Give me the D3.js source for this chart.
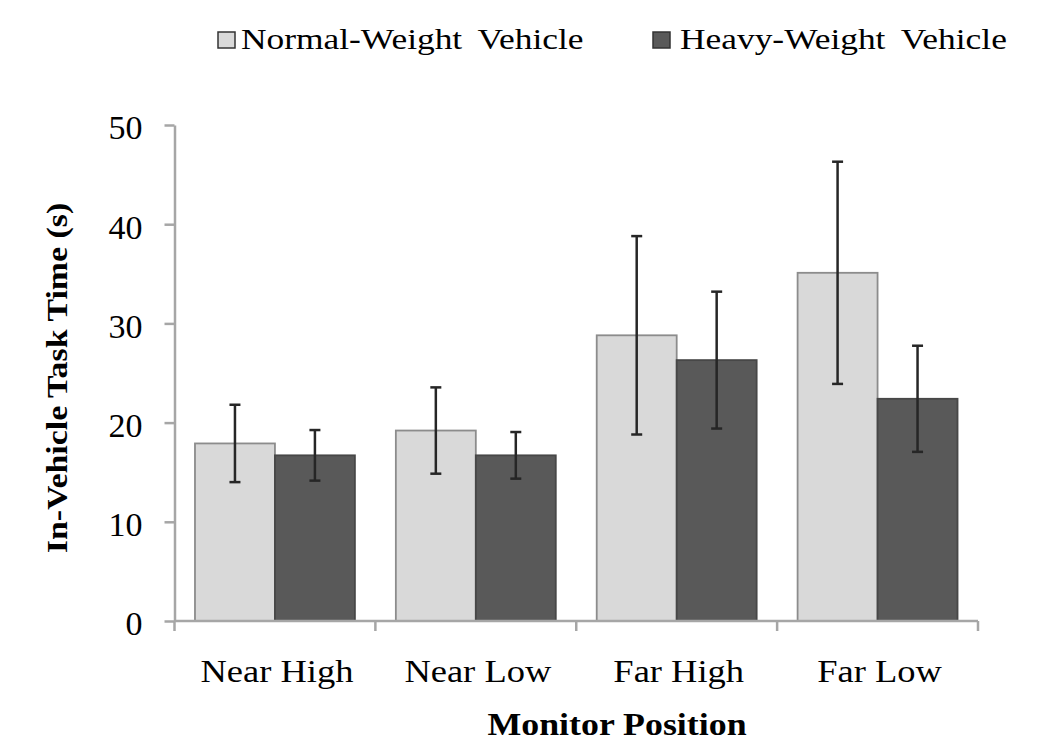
<!DOCTYPE html>
<html>
<head>
<meta charset="utf-8">
<script src="https://cdn.jsdelivr.net/npm/d3@7"></script>
<style>
  html, body { margin: 0; padding: 0; background: #fff; }
  svg { display: block; }
  text { font-family: "Liberation Serif", "Times New Roman", serif; fill: #000; }
</style>
</head>
<body>
<svg id="chart" width="1056" height="756"></svg>
<script>
// ---- data ----
const categories = ["Near High", "Near Low", "Far High", "Far Low"];
const series = ["Normal-Weight Vehicle", "Heavy-Weight Vehicle"];
const normalMeans = [17.9, 19.2, 28.8, 35.1];
const normalErr   = [3.9, 4.35, 10.0, 11.2];
const heavyMeans  = [16.7, 16.7, 26.3, 22.4];
const heavyErr    = [2.55, 2.35, 6.9, 5.35];
const yTicks = [0, 10, 20, 30, 40, 50];
const yTitle = "In-Vehicle Task Time (s)";
const xTitle = "Monitor Position";

const colors = { fill: ["#d9d9d9", "#595959"], stroke: ["#8c8c8c", "#474747"] };

const svg = d3.select("#chart");
const plotL = 174.5, plotR = 978, plotT = 125, plotB = 621;

const x0 = d3.scaleBand().domain(categories).range([plotL, plotR]).padding(0);
const x1 = d3.scaleBand().domain(series).range([0, x0.bandwidth()]).paddingInner(0).paddingOuter(0.256);
const y = d3.scaleLinear().domain([0, 50]).range([plotB, plotT]);

const rows = categories.map((c, i) => ({
  cat: c,
  vals: [
    { s: series[0], m: normalMeans[i], e: normalErr[i], k: 0 },
    { s: series[1], m: heavyMeans[i], e: heavyErr[i], k: 1 }
  ]
}));

function stretchedText(parent, x, yy, str, opts) {
  const g = parent.append("g")
    .attr("transform", `translate(${x},${yy}) rotate(${opts.rotate || 0}) scale(${opts.sx || 1},1)`);
  const t = g.append("text")
    .attr("x", 0).attr("y", 0)
    .attr("text-anchor", opts.anchor || "middle")
    .style("font-size", opts.size + "px")
    .style("font-weight", opts.weight || "normal")
    .text(str);
  if (opts.wordSpacing) t.style("word-spacing", opts.wordSpacing + "px");
  return t;
}

// bars
const groups = svg.append("g").selectAll("g").data(rows).join("g")
  .attr("transform", d => `translate(${x0(d.cat)},0)`);

groups.selectAll("rect").data(d => d.vals).join("rect")
  .attr("x", d => x1(d.s))
  .attr("y", d => y(d.m))
  .attr("width", x1.bandwidth())
  .attr("height", d => y(0) - y(d.m))
  .attr("fill", d => colors.fill[d.k])
  .attr("stroke", d => colors.stroke[d.k])
  .attr("stroke-width", 1.8);

// error bars
const eb = groups.selectAll("g.err").data(d => d.vals).join("g").attr("class", "err");
const cx = d => x1(d.s) + x1.bandwidth() / 2;
eb.append("line")
  .attr("x1", cx).attr("x2", cx)
  .attr("y1", d => y(d.m + d.e)).attr("y2", d => y(d.m - d.e))
  .attr("stroke", "#262626").attr("stroke-width", 2.5);
eb.append("line")
  .attr("x1", d => cx(d) - 5.5).attr("x2", d => cx(d) + 5.5)
  .attr("y1", d => y(d.m + d.e)).attr("y2", d => y(d.m + d.e))
  .attr("stroke", "#262626").attr("stroke-width", 2.5);
eb.append("line")
  .attr("x1", d => cx(d) - 5.5).attr("x2", d => cx(d) + 5.5)
  .attr("y1", d => y(d.m - d.e)).attr("y2", d => y(d.m - d.e))
  .attr("stroke", "#262626").attr("stroke-width", 2.5);

// y axis
const yAxis = svg.append("g")
  .attr("transform", `translate(${plotL},0)`)
  .call(d3.axisLeft(y).tickValues(yTicks).tickSize(10).tickPadding(22).tickSizeOuter(0));
yAxis.select(".domain").attr("stroke", "#a6a6a6").attr("stroke-width", 2.5);
yAxis.selectAll(".tick line").attr("stroke", "#a6a6a6").attr("stroke-width", 2.5);
yAxis.selectAll(".tick text")
  .style("font-family", '"Liberation Serif", "Times New Roman", serif')
  .style("font-size", "34px").attr("fill", "#000").attr("dy", "0.41em");

// x axis line and boundary ticks
const xa = svg.append("g");
xa.append("line").attr("x1", plotL).attr("x2", plotR).attr("y1", y(0)).attr("y2", y(0))
  .attr("stroke", "#a6a6a6").attr("stroke-width", 2.5);
const bounds = categories.map(c => x0(c)).concat([x0(categories[categories.length - 1]) + x0.bandwidth()]);
xa.selectAll("line.bt").data(bounds).join("line").attr("class", "bt")
  .attr("x1", d => d).attr("x2", d => d)
  .attr("y1", y(0)).attr("y2", y(0) + 10)
  .attr("stroke", "#a6a6a6").attr("stroke-width", 2.5);

// category labels
categories.forEach(c => {
  stretchedText(svg, x0(c) + x0.bandwidth() / 2 + 2, 682, c, { size: 32, sx: 1.14 });
});

// axis titles
stretchedText(svg, 617, 735, xTitle, { size: 32, sx: 1.12, weight: "bold" });
stretchedText(svg, 67, 378, yTitle, { size: 30, sx: 1.13, weight: "bold", rotate: -90 });

// legend
const legendItems = [
  { label: series[0], k: 0, sqx: 218, tx: 241 },
  { label: series[1], k: 1, sqx: 653, tx: 680 }
];
legendItems.forEach(it => {
  svg.append("rect").attr("x", it.sqx).attr("y", 32).attr("width", 17).attr("height", 16)
    .attr("fill", colors.fill[it.k]).attr("stroke", "#333").attr("stroke-width", 1.5);
  stretchedText(svg, it.tx, 49, it.label, { size: 30, sx: 1.18, anchor: "start", wordSpacing: 6 });
});
</script>
</body>
</html>
